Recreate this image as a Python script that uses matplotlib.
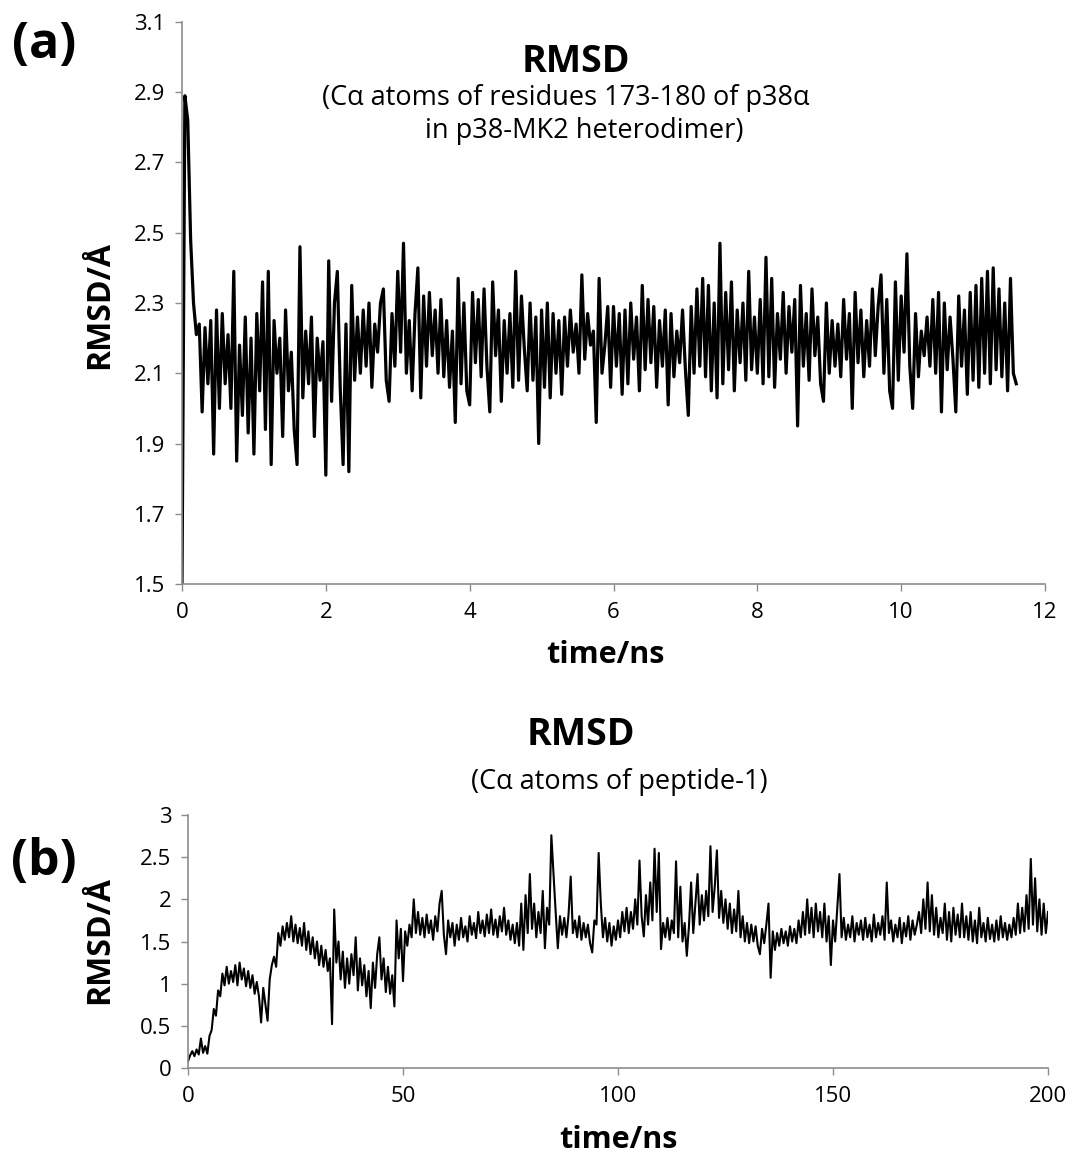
import numpy as np
import matplotlib.pyplot as plt

plt.rcParams['font.family'] = ['Open Sans', 'DejaVu Sans']

# Panel (a): RMSD of residues 173-180, sampled every 0.04 ns
dt_a = 0.04
rmsd_a = [
    1.50, 2.89, 2.82, 2.48, 2.30, 2.21, 2.24, 1.99, 2.23, 2.07,
    2.25, 1.87, 2.28, 2.00, 2.27, 2.07, 2.21, 2.00, 2.39, 1.85,
    2.18, 1.98, 2.26, 1.93, 2.20, 1.87, 2.27, 2.05, 2.36, 1.94,
    2.39, 1.84, 2.25, 2.10, 2.20, 1.92, 2.28, 2.05, 2.16, 1.94,
    1.84, 2.46, 2.03, 2.22, 2.07, 2.26, 1.92, 2.20, 2.08, 2.19,
    1.81, 2.42, 2.02, 2.30, 2.39, 2.06, 1.84, 2.24, 1.82, 2.35,
    2.08, 2.26, 2.10, 2.28, 2.12, 2.30, 2.06, 2.24, 2.16, 2.30,
    2.34, 2.08, 2.02, 2.27, 2.12, 2.39, 2.16, 2.47, 2.10, 2.25,
    2.05, 2.27, 2.40, 2.03, 2.32, 2.12, 2.33, 2.15, 2.28, 2.10,
    2.31, 2.09, 2.25, 2.06, 2.22, 1.96, 2.37, 2.07, 2.30, 2.05,
    2.01, 2.33, 2.13, 2.31, 2.09, 2.34, 2.12, 1.99, 2.36, 2.15,
    2.28, 2.02, 2.25, 2.10, 2.27, 2.06, 2.39, 2.08, 2.32, 2.17,
    2.05, 2.30, 2.08, 2.26, 1.90, 2.28, 2.06, 2.30, 2.03, 2.27,
    2.10, 2.25, 2.04, 2.26, 2.12, 2.28, 2.16, 2.24, 2.10, 2.38,
    2.14, 2.27, 2.18, 2.22, 1.96, 2.37, 2.10, 2.18, 2.29, 2.06,
    2.29, 2.12, 2.27, 2.04, 2.28, 2.07, 2.30, 2.14, 2.26, 2.05,
    2.35, 2.11, 2.31, 2.13, 2.29, 2.06, 2.25, 2.12, 2.28, 2.01,
    2.27, 2.09, 2.22, 2.13, 2.28, 2.11, 1.98, 2.29, 2.10, 2.34,
    2.12, 2.37, 2.09, 2.35, 2.05, 2.30, 2.03, 2.47, 2.07, 2.33,
    2.11, 2.36, 2.05, 2.28, 2.13, 2.30, 2.08, 2.39, 2.11, 2.26,
    2.10, 2.31, 2.07, 2.43, 2.09, 2.37, 2.06, 2.27, 2.14, 2.33,
    2.10, 2.29, 2.16, 2.31, 1.95, 2.35, 2.12, 2.27, 2.08, 2.34,
    2.15, 2.26, 2.07, 2.02, 2.30, 2.10, 2.25, 2.12, 2.24, 2.09,
    2.31, 2.14, 2.27, 2.00, 2.33, 2.13, 2.28, 2.09, 2.25, 2.12,
    2.34, 2.15, 2.29, 2.38, 2.10, 2.31, 2.05, 2.00, 2.36, 2.08,
    2.32, 2.16, 2.44, 2.12, 2.00, 2.27, 2.09, 2.22, 2.15, 2.26,
    2.12, 2.31, 2.10, 2.33, 1.99, 2.30, 2.11, 2.26, 2.14, 1.99,
    2.32, 2.12, 2.28, 2.04, 2.33, 2.08, 2.35, 2.06, 2.37, 2.10,
    2.39, 2.07, 2.40, 2.11, 2.34, 2.09, 2.30, 2.05, 2.37, 2.10,
    2.07,
]

# Panel (b): RMSD of peptide-1, sampled every 0.5 ns
dt_b = 0.5
rmsd_b = [
    0.08, 0.15, 0.20, 0.14, 0.22, 0.16, 0.35, 0.18, 0.26, 0.17, 0.38, 0.45, 0.70, 0.62, 0.92, 0.85, 1.12, 0.98, 1.20, 1.00,
    1.15, 1.02, 1.22, 0.98, 1.25, 1.05, 1.18, 0.97, 1.15, 0.95, 1.10, 0.88, 1.02, 0.85, 0.54, 0.95, 0.75, 0.56, 1.05, 1.22,
    1.32, 1.20, 1.60, 1.45, 1.68, 1.52, 1.72, 1.55, 1.80, 1.50, 1.70, 1.48, 1.66, 1.45, 1.72, 1.40, 1.62, 1.35, 1.55, 1.30,
    1.50, 1.22, 1.45, 1.20, 1.40, 1.15, 1.30, 0.52, 1.88, 1.25, 1.50, 1.05, 1.38, 0.95, 1.30, 1.00, 1.35, 1.10, 1.55, 0.92,
    1.30, 0.98, 1.22, 0.85, 1.15, 0.71, 1.25, 0.95, 1.35, 1.55, 1.05, 1.30, 0.90, 1.20, 0.88, 1.10, 0.73, 1.75, 1.30, 1.65,
    1.03, 1.62, 1.45, 1.70, 1.55, 2.00, 1.60, 1.85, 1.58, 1.78, 1.55, 1.82, 1.60, 1.75, 1.52, 1.80, 1.62, 1.95, 2.10, 1.58,
    1.35, 1.75, 1.55, 1.72, 1.45, 1.70, 1.52, 1.78, 1.55, 1.68, 1.50, 1.80, 1.58, 1.72, 1.54, 1.85, 1.60, 1.75, 1.56, 1.82,
    1.60, 1.88, 1.58, 1.76, 1.55, 1.80, 1.62, 1.90, 1.58, 1.75, 1.52, 1.70, 1.48, 1.72, 1.45, 1.95, 1.40, 2.05, 1.60, 2.30,
    1.65, 1.95, 1.55, 1.85, 1.60, 2.10, 1.42, 1.90, 1.70, 2.76, 2.30, 1.85, 1.42, 1.80, 1.58, 1.78, 1.55, 1.82, 2.27, 1.60,
    1.75, 1.55, 1.80, 1.52, 1.72, 1.55, 1.70, 1.48, 1.37, 1.75, 1.70, 2.55, 1.95, 1.55, 1.78, 1.50, 1.72, 1.45, 1.68, 1.52,
    1.75, 1.55, 1.85, 1.62, 1.90, 1.60, 1.85, 1.65, 2.00, 1.70, 2.46, 1.80, 1.56, 2.05, 1.70, 2.20, 1.75, 2.60, 1.85, 2.55,
    1.41, 1.72, 1.55, 1.78, 1.52, 1.75, 1.60, 2.45, 1.55, 2.15, 1.50, 1.72, 1.33, 1.68, 2.20, 1.60, 1.95, 2.30, 1.70, 2.05,
    1.75, 2.10, 1.80, 2.63, 1.85, 2.15, 2.58, 1.78, 2.10, 1.72, 2.00, 1.65, 1.95, 1.60, 1.88, 1.62, 2.10, 1.55, 1.80, 1.50,
    1.72, 1.48, 1.70, 1.50, 1.68, 1.45, 1.35, 1.65, 1.48, 1.70, 1.95, 1.07, 1.62, 1.40, 1.60, 1.45, 1.65, 1.48, 1.62, 1.45,
    1.68, 1.50, 1.65, 1.48, 1.75, 1.55, 1.85, 1.58, 2.00, 1.60, 1.90, 1.55, 1.95, 1.62, 1.85, 1.55, 1.95, 1.50, 1.80, 1.22,
    1.75, 1.50, 1.90, 2.30, 1.55, 1.78, 1.52, 1.70, 1.55, 1.80, 1.50, 1.72, 1.58, 1.75, 1.52, 1.78, 1.55, 1.70, 1.50, 1.82,
    1.55, 1.72, 1.58, 1.80, 1.52, 2.20, 1.60, 1.75, 1.50, 1.70, 1.55, 1.78, 1.48, 1.72, 1.56, 1.80, 1.52, 1.75, 1.58, 1.70,
    1.85, 1.60, 2.00, 1.65, 2.20, 1.62, 2.05, 1.58, 1.90, 1.55, 1.78, 1.60, 1.95, 1.52, 1.85, 1.50, 1.90, 1.58, 1.82, 1.55,
    1.95, 1.55, 1.80, 1.52, 1.85, 1.50, 1.75, 1.48, 1.90, 1.55, 1.72, 1.50, 1.78, 1.53, 1.70, 1.50, 1.75, 1.52, 1.80, 1.55,
    1.72, 1.52, 1.70, 1.55, 1.78, 1.58, 1.95, 1.60, 1.90, 1.62, 2.05, 1.65, 2.48, 1.70, 2.25, 1.62, 2.00, 1.58, 1.95, 1.60,
    1.85,
]

yticks_a = [1.5, 1.7, 1.9, 2.1, 2.3, 2.5, 2.7, 2.9, 3.1]
xticks_a = [0, 2, 4, 6, 8, 10, 12]
yticks_b = [0, 0.5, 1, 1.5, 2, 2.5, 3]
ytick_labels_b = ['0', '0.5', '1', '1.5', '2', '2.5', '3']
xticks_b = [0, 50, 100, 150, 200]

axis_gray = '#8c8c8c'

W, H = 1073, 1166
fig = plt.figure(figsize=(W / 100, H / 100), dpi=100)


def px_axes(left, top, right, bottom):
    # axes rectangle given in figure pixels (origin top-left)
    return fig.add_axes([left / W, 1 - bottom / H, (right - left) / W, (bottom - top) / H])


def style(ax):
    for s in ['top', 'right']:
        ax.spines[s].set_visible(False)
    for s in ['left', 'bottom']:
        ax.spines[s].set_color(axis_gray)
        ax.spines[s].set_linewidth(1.2)
    ax.tick_params(axis='both', direction='out', color=axis_gray, width=1.0,
                   length=5, labelsize=16, labelcolor='black')
    ax.tick_params(axis='y', pad=7)
    ax.tick_params(axis='x', pad=8)


# ---- panel (a) ----
ax1 = px_axes(182, 22, 1045, 584)
t_a = np.arange(len(rmsd_a)) * dt_a
ax1.plot(t_a, rmsd_a, color='black', lw=2.3)
ax1.set_xlim(0, 12)
ax1.set_ylim(1.5, 3.1)
ax1.set_xticks(xticks_a)
ax1.set_yticks(yticks_a)
ax1.set_yticklabels([f'{v:.1f}' for v in yticks_a])
style(ax1)

fig.text(44 / W, 1 - 45 / H, '(a)', fontsize=36, fontweight='bold', ha='center', va='center')
fig.text(576 / W, 1 - 62 / H, 'RMSD', fontsize=27, fontweight='bold', ha='center', va='center')
fig.text(566 / W, 1 - 98 / H, '(Cα atoms of residues 173-180 of p38α', fontsize=19.5, ha='center', va='center')
fig.text(584 / W, 1 - 131 / H, 'in p38-MK2 heterodimer)', fontsize=19.5, ha='center', va='center')
fig.text(100 / W, 1 - 305 / H, 'RMSD/Å', fontsize=23, fontweight='bold', rotation=90, ha='center', va='center')
fig.text(605 / W, 1 - 655 / H, 'time/ns', fontsize=22, fontweight='bold', ha='center', va='center')

# ---- panel (b) ----
ax2 = px_axes(188, 815, 1048, 1068)
t_b = np.arange(len(rmsd_b)) * dt_b
ax2.plot(t_b, rmsd_b, color='black', lw=1.5)
ax2.set_xlim(0, 200)
ax2.set_ylim(0, 3)
ax2.set_xticks(xticks_b)
ax2.set_yticks(yticks_b)
ax2.set_yticklabels(ytick_labels_b)
style(ax2)

fig.text(44 / W, 1 - 862 / H, '(b)', fontsize=36, fontweight='bold', ha='center', va='center')
fig.text(581 / W, 1 - 735 / H, 'RMSD', fontsize=27, fontweight='bold', ha='center', va='center')
fig.text(619 / W, 1 - 782 / H, '(Cα atoms of peptide-1)', fontsize=19.5, ha='center', va='center')
fig.text(100 / W, 1 - 940 / H, 'RMSD/Å', fontsize=23, fontweight='bold', rotation=90, ha='center', va='center')
fig.text(618 / W, 1 - 1140 / H, 'time/ns', fontsize=22, fontweight='bold', ha='center', va='center')

fig.savefig('out.png', dpi=100, facecolor='white')
